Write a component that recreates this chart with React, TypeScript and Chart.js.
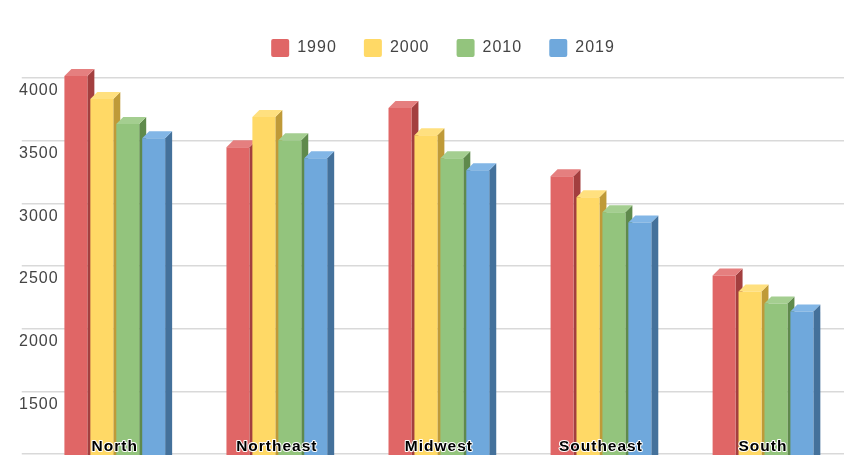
import React, { useEffect, useRef } from "react";
import { Chart, registerables } from "chart.js";

Chart.register(...registerables);

const categories = ["North", "Northeast", "Midwest", "Southeast", "South"];
const years = ["1990", "2000", "2010", "2019"];
const values1990 = [4016, 3448, 3760, 3216, 2424];
const values2000 = [3832, 3688, 3544, 3048, 2296];
const values2010 = [3632, 3504, 3360, 2928, 2200];
const values2019 = [3520, 3360, 3264, 2848, 2136];
const tickValues = [1000, 1500, 2000, 2500, 3000, 3500, 4000];

const frontColors = ["#E06666", "#FFD966", "#93C47D", "#6FA8DC"];
const sideColors = ["#A33F3F", "#BF9A38", "#5F8A4C", "#44719B"];
const topColors = ["#E57F7F", "#FFE07F", "#A4CE90", "#82B6E6"];
const depth = 7;

const FONT = "'Liberation Sans', Arial, sans-serif";

const textState = {
  id: "textState",
  beforeUpdate(chart: any) {
    chart.ctx.letterSpacing = "1px";
    chart.ctx.lineJoin = "round";
  },
  beforeDraw(chart: any) {
    chart.ctx.letterSpacing = "1px";
    chart.ctx.lineJoin = "round";
  },
};

const bars3d = {
  id: "bars3d",
  beforeDatasetsDraw(chart: any) {
    const ctx = chart.ctx;
    chart.data.datasets.forEach((_: any, di: number) => {
      const meta = chart.getDatasetMeta(di);
      meta.data.forEach((bar: any) => {
        const p = bar.getProps(["x", "y", "base", "width"], true);
        const right = p.x + p.width / 2;
        const left = p.x - p.width / 2;
        ctx.save();
        ctx.fillStyle = sideColors[di];
        ctx.beginPath();
        ctx.moveTo(right, p.y);
        ctx.lineTo(right + depth, p.y - depth);
        ctx.lineTo(right + depth, p.base + depth);
        ctx.lineTo(right, p.base + depth);
        ctx.closePath();
        ctx.fill();
        ctx.fillStyle = topColors[di];
        ctx.beginPath();
        ctx.moveTo(left, p.y);
        ctx.lineTo(left + depth, p.y - depth);
        ctx.lineTo(right + depth, p.y - depth);
        ctx.lineTo(right, p.y);
        ctx.closePath();
        ctx.fill();
        ctx.restore();
        bar.draw(ctx, chart.chartArea);
      });
    });
    return false;
  },
};

const legendFit = {
  id: "legendFit",
  beforeLayout(chart: any) {
    const legend = chart.legend;
    if (legend && !legend.__patched) {
      legend.__patched = true;
      const orig = legend.fit;
      legend.fit = function () {
        orig.call(this);
        this.height = 0;
      };
    }
  },
  afterLayout(chart: any) {
    if (chart.legend) {
      chart.legend.left += 9.4;
      chart.legend.right += 9.4;
      chart.legend.top += 1.9;
      chart.legend.bottom = chart.legend.top + 74;
    }
  },
};

export default function App() {
  const ref = useRef<HTMLCanvasElement | null>(null);
  useEffect(() => {
    document.body.style.margin = "0";
    document.body.style.background = "#fff";
    const series = [values1990, values2000, values2010, values2019];
    const chart = new Chart(ref.current as HTMLCanvasElement, {
      type: "bar",
      data: {
        labels: categories,
        datasets: years.map((y, i) => ({
          label: y,
          data: series[i],
          backgroundColor: frontColors[i],
          borderWidth: 0,
          categoryPercentage: 0.64,
          barPercentage: 0.885,
        })),
      },
      plugins: [textState, bars3d, legendFit],
      options: {
        responsive: false,
        animation: false,
        layout: { padding: { left: 21, right: -2.25, top: 10, bottom: 0 } },
        plugins: {
          title: { display: false },
          tooltip: { enabled: false },
          legend: {
            position: "top",
            align: "center",
            labels: {
              boxWidth: 18,
              boxHeight: 18,
              padding: 27.1,
              useBorderRadius: true,
              borderRadius: 2,
              color: "#444444",
              font: { family: FONT, size: 16 },
            },
          },
        },
        scales: {
          x: {
            grid: { display: false },
            border: { display: false },
            afterFit: (s: any) => {
              s.height = 0;
            },
            ticks: {
              z: 1,
              mirror: true,
              padding: -1.4,
              maxRotation: 0,
              autoSkip: false,
              color: "#000000",
              textStrokeColor: "#FFFFFF",
              textStrokeWidth: 2,
              font: { family: FONT, size: 15.5, weight: "bold" },
            },
          },
          y: {
            min: 992,
            max: 4542.5,
            afterBuildTicks: (s: any) => {
              s.ticks = tickValues.map((value) => ({ value }));
            },
            afterFit: (s: any) => {
              s.width = 12.75;
              s.paddingTop = 0;
              s.paddingBottom = 0;
            },
            grid: { color: "#D9D9D9", lineWidth: 1.5, tickLength: 12, tickColor: "#D9D9D9" },
            border: { display: false },
            ticks: {
              mirror: true,
              padding: -14.75,
              color: "#444444",
              callback: (v: any) => ["", String(v)],
              font: { family: FONT, size: 16, lineHeight: 1.625 },
            },
          },
        },
      },
    } as any);
    return () => chart.destroy();
  }, []);
  return (
    <canvas
      ref={ref}
      width={844}
      height={455}
      style={{ display: "block", width: 844, height: 455, filter: "blur(0.4px)" }}
    />
  );
}
